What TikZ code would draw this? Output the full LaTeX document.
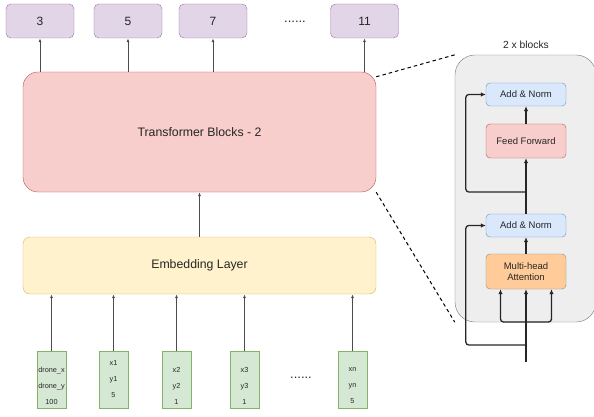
\documentclass[tikz,border=0pt]{standalone}
\usepackage{fontspec}
\setmainfont{Liberation Sans}
\usetikzlibrary{arrows.meta}

\definecolor{purpfill}{HTML}{E1D5E7}\definecolor{purpline}{HTML}{9673A6}
\definecolor{redfill}{HTML}{F8CECC}\definecolor{redline}{HTML}{B85450}
\definecolor{yelfill}{HTML}{FFF2CC}\definecolor{yelline}{HTML}{D6B656}
\definecolor{grnfill}{HTML}{D5E8D4}\definecolor{grnline}{HTML}{82B366}
\definecolor{blufill}{HTML}{DAE8FC}\definecolor{bluline}{HTML}{6C8EBF}
\definecolor{orafill}{HTML}{FFCC99}\definecolor{oraline}{HTML}{36393D}
\definecolor{panfill}{HTML}{EEEEEE}\definecolor{panline}{HTML}{7A7A7A}

\tikzset{
  box/.style={rectangle, inner sep=0pt, text=black!85},
  outbox/.style={box, fill=purpfill, draw=purpline, rounded corners=5pt,
    minimum width=68pt, minimum height=34pt, font=\fontsize{12}{14}\selectfont},
  inbox/.style={box, fill=grnfill, draw=grnline, minimum width=29pt, minimum height=57pt},
  intext/.style={align=center, text=black!85, font=\fontsize{7.3}{16}\selectfont},
  smallbox/.style={box, minimum width=80pt, font=\fontsize{9.5}{11.5}\selectfont, align=center,
    rounded corners=4pt},
  arr/.style={draw=black!70, line width=0.8pt, -{Latex[length=4pt,width=3pt]}},
  barr/.style={draw=black!85, line width=1.3pt, -{Latex[length=5pt,width=4.5pt]}},
  dots/.style={text=black!85, font=\fontsize{13}{15}\selectfont}
}

\begin{document}
\begin{tikzpicture}[x=1pt,y=-1pt]
\useasboundingbox (0,0) rectangle (594,417);

% output nodes
\node[outbox] (o3) at (40,21) {3};
\node[outbox] (o5) at (128,21) {5};
\node[outbox] (o7) at (213,21) {7};
\node[dots] (odots) at (295,22) {......};
\node[outbox] (o11) at (364.5,21) {11};

% transformer and embedding
\node[box, fill=redfill, draw=redline, rounded corners=15pt, minimum width=353pt,
  minimum height=120pt, font=\fontsize{12.3}{14}\selectfont] (trans) at (199.5,132)
  {Transformer Blocks - 2};
\node[box, fill=yelfill, draw=yelline, rounded corners=7pt, minimum width=353pt,
  minimum height=57pt, font=\fontsize{12.3}{14}\selectfont] (emb) at (199.5,265.5)
  {\raisebox{-1.5pt}{Embedding Layer}};

\draw[arr] (o3.south |- trans.north) -- (o3.south);
\draw[arr] (o5.south |- trans.north) -- (o5.south);
\draw[arr] (o7.south |- trans.north) -- (o7.south);
\draw[arr] (o11.south |- trans.north) -- (o11.south);
\draw[arr] (emb) -- (trans);

% inputs
\node[inbox] (in1) at (51.5,379.5) {};
\node[inbox] (in2) at (113.5,379.5) {};
\node[inbox] (in3) at (176.5,379.5) {};
\node[inbox] (in4) at (244.5,379.5) {};
\node[dots] (idots) at (301,378) {......};
\node[inbox] (in5) at (352.5,379.5) {};

\node[intext] at ([yshift=-6.5pt]in1.center) {drone\_x\\drone\_y\\100};
\node[intext] at (in2.center) {x1\\y1\\5};
\node[intext] at ([yshift=-6.5pt]in3.center) {x2\\y2\\1};
\node[intext] at ([yshift=-6.5pt]in4.center) {x3\\y3\\1};
\node[intext] at ([yshift=-6.5pt]in5.center) {xn\\yn\\5};

\foreach \n in {in1,in2,in3,in4,in5}
  \draw[arr] (\n.north) -- (\n.north |- emb.south);

% zoomed block
\node[box, fill=panfill, draw=panline, rounded corners=20pt, minimum width=141pt,
  minimum height=267pt] (blk) at (525.5,188.5) {};
\node[text=black!85, font=\fontsize{10.3}{12}\selectfont] (blklabel) at (526,45) {2 x blocks};

\draw[line width=1pt, dash pattern=on 3.5pt off 3pt]
  ([yshift=-5pt]trans.north east) -- (blk.north west);
\draw[line width=1pt, dash pattern=on 3.5pt off 3pt]
  (trans.south east) -- (blk.south west);

\node[smallbox, fill=blufill, draw=bluline, minimum height=23pt] (an2) at (526,94.5) {Add \& Norm};
\node[smallbox, fill=redfill, draw=redline, minimum height=34pt] (ff) at (526,141) {Feed Forward};
\node[smallbox, fill=blufill, draw=bluline, minimum height=23pt] (an1) at (526,225.5) {Add \& Norm};
\node[smallbox, fill=orafill, draw=oraline!60, minimum height=35pt] (mha) at (526,271.5)
  {Multi-head\\Attention};

\coordinate (inp) at (526,362);
\coordinate (r1) at (526,345);
\coordinate (sp) at (526,322);
\coordinate (r2) at (526,192);

\draw[barr] (inp) -- (mha.south);
\draw[barr, rounded corners=3pt] (sp) -| ([xshift=-25.5pt]mha.south);
\draw[barr, rounded corners=3pt] (sp) -| ([xshift=25.5pt]mha.south);
\draw[barr, rounded corners=3pt] (r1) -| ([xshift=-20pt]an1.west) -- (an1.west);
\draw[barr] (mha) -- (an1);
\draw[barr] (an1) -- (ff);
\draw[barr, rounded corners=3pt] (r2) -| ([xshift=-20pt]an2.west) -- (an2.west);
\draw[barr] (ff) -- (an2);
\end{tikzpicture}
\end{document}
